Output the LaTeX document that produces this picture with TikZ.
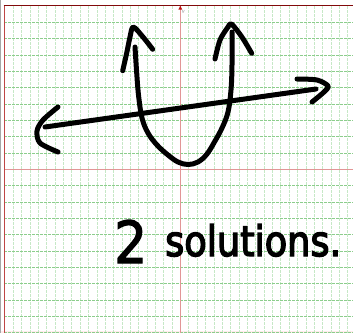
\documentclass[tikz,border=0pt]{standalone}
\usepackage{fontspec}
\usepackage{graphicx}
\newfontfamily\handfont[FakeBold=2.2]{DejaVu Sans}
\newfontfamily\solfont[FakeBold=3.4]{DejaVu Sans}
\definecolor{vgrid}{RGB}{198,232,198}
\definecolor{hgrid}{RGB}{140,205,140}
\definecolor{axisred}{RGB}{225,150,150}
\definecolor{marginred}{RGB}{190,70,70}
\definecolor{topred}{RGB}{130,10,10}
\definecolor{tipred}{RGB}{190,20,20}
\begin{document}
\begin{tikzpicture}[x=1pt,y=-1pt,
  ink/.style={line width=5pt,line cap=round,line join=round,black},
  vline/.style={vgrid,line width=0.8pt,dash pattern=on 2.5pt off 1.5pt},
  hline/.style={hgrid,line width=0.8pt,dash pattern=on 3pt off 1pt},
  axisline/.style={axisred,line width=1pt}]
\useasboundingbox (0,0) rectangle (353,333);
\fill[white] (0,0) rectangle (353,333);
\fill[gray!70] (0,0) rectangle (1.4,333);
\fill[red!8] (1.4,331) rectangle (353,333);
\foreach \k in {0,...,40}{\ifnum\k=20\relax\else\draw[vline] ({13.3+8.36*\k},6) -- ({13.3+8.36*\k},333);\fi}
\foreach \k in {0,...,19}{\ifnum\k=9\relax\else\draw[hline] (4.3,{22.3+16.33*\k}) -- (353,{22.3+16.33*\k});\fi}
\draw[axisline] (4.3,169.3) -- (353,169.3);
\draw[axisline] (180.5,5.3) -- (180.5,333);
\draw[marginred,line width=1.2pt] (4.3,5.3) -- (4.3,333);
\draw[topred,line width=1.4pt] (3.6,5.3) -- (353,5.3);
\fill[tipred] (178.4,9.6) -- (180.3,5.6) -- (182.2,9.6) -- cycle;
\node[gray,inner sep=0,font=\fontsize{5}{5}\selectfont\itshape] (ylab) at (183,12.3) {y};
% parabola
\draw[ink] plot[smooth,tension=0.6] coordinates {(135,47) (136.5,70) (138.5,95) (142,118) (148,133) (157,145) (168,155) (178,162) (188,164.5) (198,162) (207,154) (215,141) (222,128) (228,112) (231,90) (232,65) (232,32)};
\draw[ink] plot[smooth] coordinates {(122.7,70.7) (126.7,53) (130,37) (133.3,27) (143,37) (152.7,49.3)};
\draw[ink] plot[smooth] coordinates {(215,59) (220,40) (228,27) (231.5,24) (241.7,36.7) (251.7,53.3)};
% line
\draw[ink] (45,127) -- (316,89);
\draw[ink] plot[smooth] coordinates {(58,107) (43,120) (37,131) (40,143) (58,152)};
\draw[ink] plot[smooth] coordinates {(297,79) (317,80) (328,86) (324,92) (312,102)};
% text
\node[inner sep=0,anchor=base west] (two) at (114,263) {\resizebox{33pt}{\height}{\handfont\fontsize{58}{58}\selectfont 2}};
\node[inner sep=0,anchor=base west] (sol) at (165,256) {\resizebox{176pt}{\height}{\solfont\fontsize{42}{42}\selectfont solutions.}};
\end{tikzpicture}
\end{document}
